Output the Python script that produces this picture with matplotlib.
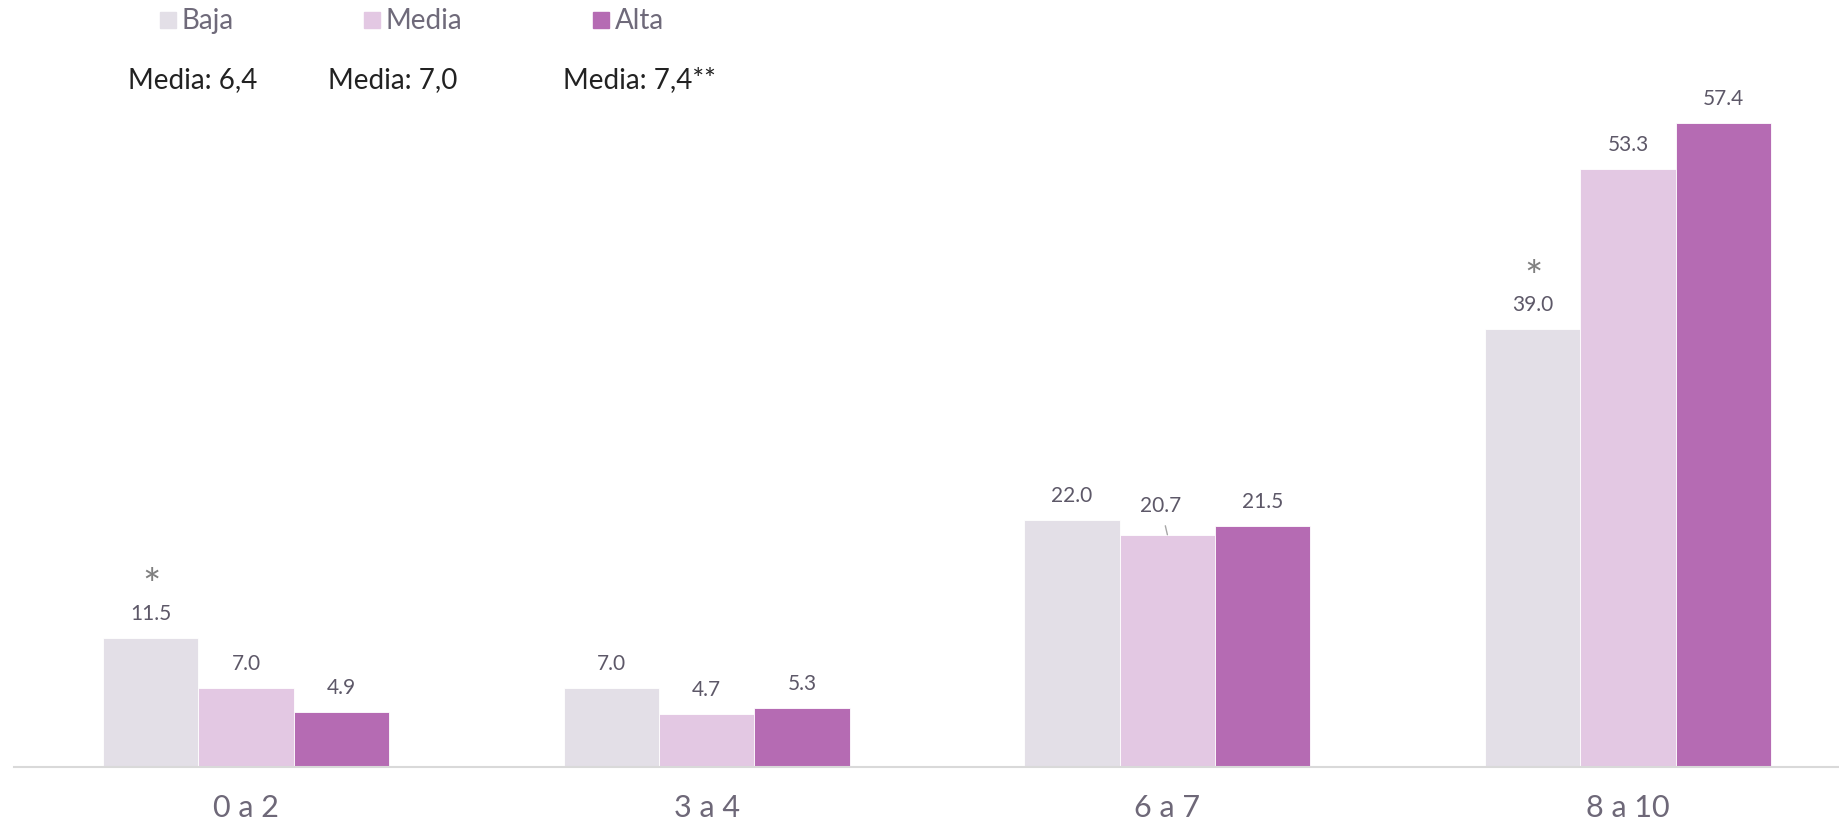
import numpy as np
import matplotlib.pyplot as plt

plt.rcParams['font.family'] = ['Lato', 'DejaVu Sans']
plt.rcParams['mathtext.fontset'] = 'custom'
plt.rcParams['mathtext.rm'] = 'Lato'

# Datos
categorias = ['0 a 2', '3 a 4', '6 a 7', '8 a 10']
series = ['Baja', 'Media', 'Alta']
baja = [11.5, 7.0, 22.0, 39.0]
media = [7.0, 4.7, 20.7, 53.3]
alta = [4.9, 5.3, 21.5, 57.4]
medias_txt = ['Media: 6,4', 'Media: 7,0', 'Media: 7,4**']
asteriscos = [(0, 0), (0, 3)]   # (serie, categoria) con asterisco

colores = ['#e3dfe7', '#e3c8e3', '#b56bb3']
col_txt = '#5d5868'

fig = plt.figure(figsize=(18.39, 8.28), dpi=100)
ax = fig.add_axes([14 / 1839, 60 / 828, 1 - 14 / 1839, 768 / 828])

x = np.arange(len(categorias))
w = 0.207
valores = [baja, media, alta]
for i, (vals, c) in enumerate(zip(valores, colores)):
    pos = x + (i - 1) * w
    ax.bar(pos, vals, width=w, color=c, edgecolor='white', linewidth=0.6)
    for j, (p, v) in enumerate(zip(pos, vals)):
        if i == 1 and j == 2:
            # etiqueta con línea guía
            ax.annotate(f'{v:.1f}', xy=(p, v), xytext=(-5, 21.5),
                        textcoords='offset points', ha='center', va='center',
                        fontsize=15, color=col_txt,
                        arrowprops=dict(arrowstyle='-', color='#a6a6a6',
                                        lw=1, shrinkA=6, shrinkB=0))
        else:
            ax.annotate(f'{v:.1f}', xy=(p, v), xytext=(0, 18),
                        textcoords='offset points', ha='center', va='center',
                        fontsize=15, color=col_txt)
        if (i, j) in asteriscos:
            # asterisco de significancia
            ax.annotate(r'$\mathregular{*}$', xy=(p, v), xytext=(0, 30),
                        textcoords='offset points', ha='center', va='baseline',
                        fontsize=31, color='#7f7f7f')

ax.set_xlim(-0.504, 3.458)
ax.set_ylim(0, 68.45)
ax.set_xticks(x)
ax.set_xticklabels(categorias, fontsize=22, color='#6e6878')
ax.tick_params(axis='x', length=0, pad=19)
ax.set_yticks([])
for s in ['top', 'right', 'left']:
    ax.spines[s].set_visible(False)
ax.spines['bottom'].set_color('#d9d9d9')
ax.spines['bottom'].set_linewidth(1.5)

# Leyenda manual
leg_x = [160, 364, 593]
for lx, nombre, c in zip(leg_x, series, colores):
    fig.patches.append(plt.Rectangle((lx / 1839, 1 - 29 / 828), 16 / 1839, 16 / 828,
                                     transform=fig.transFigure, color=c))
    fig.text((lx + 22) / 1839, 1 - 21 / 828, nombre, fontsize=20,
             color='#6f6a7a', va='center', ha='left')

med_x = [128, 328, 563]
for mx, t in zip(med_x, medias_txt):
    fig.text(mx / 1839, 1 - 80 / 828, t, fontsize=20, color='#222222',
             va='center', ha='left')

fig.savefig('out.png', dpi=100)
